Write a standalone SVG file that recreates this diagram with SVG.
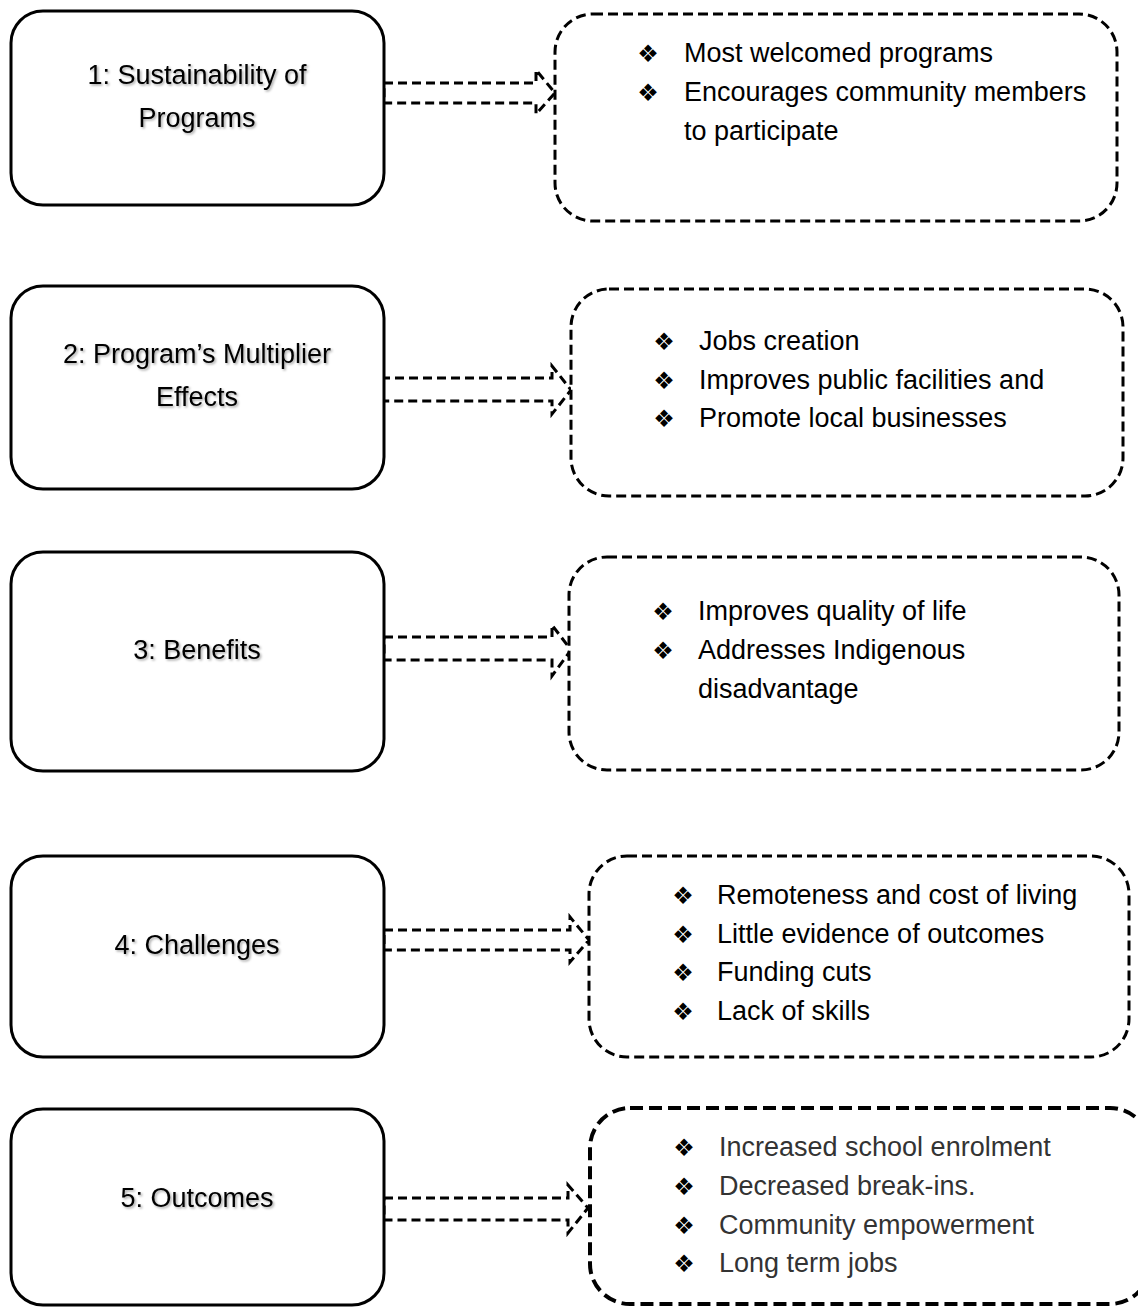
<svg xmlns="http://www.w3.org/2000/svg" width="1138" height="1308" viewBox="0 0 1138 1308">
<defs>
<filter id="sh" x="-10%" y="-30%" width="120%" height="160%">
<feDropShadow dx="1.5" dy="1.5" stdDeviation="1" flood-color="#000" flood-opacity="0.35"/>
</filter>
</defs>
<style>
.node{fill:#fff;stroke:#000;stroke-width:3}
.dbox{fill:#fff;stroke:#000;stroke-width:3;stroke-dasharray:10 5}
.dbox5{fill:#fff;stroke:#000;stroke-width:4;stroke-dasharray:13 6}
.arrow{fill:#fff;stroke:#000;stroke-width:3;stroke-dasharray:9 5;stroke-linejoin:miter}
.title{font-family:"Liberation Sans",Arial,sans-serif;font-size:27px;fill:#000;text-anchor:middle}
.item{font-family:"Liberation Sans",Arial,sans-serif;font-size:27px;fill:#000}
.item5{font-family:"Liberation Sans",Arial,sans-serif;font-size:27px;fill:#333}
.bul{font-family:"DejaVu Sans",sans-serif;font-size:24px;fill:#000;text-anchor:middle}
</style>
<rect width="1138" height="1308" fill="#fff"/>

<g id="connectors">
<path class="arrow" d="M384,83 L536,83 L536,70 L555,93 L536,114 L536,103 L384,103 Z"/>
<path class="arrow" d="M381,378 L552,378 L552,366 L571,390 L552,414 L552,401 L381,401 Z"/>
<path class="arrow" d="M384,637 L552,637 L552,625 L571,650 L552,676 L552,660 L384,660 Z"/>
<path class="arrow" d="M384,930 L570,930 L570,917 L589,940 L570,962 L570,950 L384,950 Z"/>
<path class="arrow" d="M384,1198 L568,1198 L568,1185 L588,1208 L568,1233 L568,1220 L384,1220 Z"/>
</g>

<g id="node1">
<rect class="node" x="11" y="11" width="373" height="194" rx="32"/>
<text class="title" x="197" y="84" filter="url(#sh)">1: Sustainability of</text>
<text class="title" x="197" y="127" filter="url(#sh)">Programs</text>
</g>
<g id="node2">
<rect class="node" x="11" y="286" width="373" height="203" rx="32"/>
<text class="title" x="197" y="363" filter="url(#sh)">2: Program’s Multiplier</text>
<text class="title" x="197" y="406" filter="url(#sh)">Effects</text>
</g>
<g id="node3">
<rect class="node" x="11" y="552" width="373" height="219" rx="32"/>
<text class="title" x="197" y="659" filter="url(#sh)">3: Benefits</text>
</g>
<g id="node4">
<rect class="node" x="11" y="856" width="373" height="201" rx="32"/>
<text class="title" x="197" y="954" filter="url(#sh)">4: Challenges</text>
</g>
<g id="node5">
<rect class="node" x="11" y="1109" width="373" height="196" rx="32"/>
<text class="title" x="197" y="1207" filter="url(#sh)">5: Outcomes</text>
</g>

<g id="detail1">
<rect class="dbox" x="555" y="14" width="562" height="207" rx="38"/>
<text class="bul" x="648" y="62">❖</text>
<text class="item" x="684" y="62">Most welcomed programs</text>
<text class="bul" x="648" y="101">❖</text>
<text class="item" x="684" y="101">Encourages community members</text>
<text class="item" x="684" y="140">to participate</text>
</g>
<g id="detail2">
<rect class="dbox" x="571" y="289" width="552" height="207" rx="38"/>
<text class="bul" x="664" y="350">❖</text>
<text class="item" x="699" y="350">Jobs creation</text>
<text class="bul" x="664" y="389">❖</text>
<text class="item" x="699" y="389">Improves public facilities and</text>
<text class="bul" x="664" y="427">❖</text>
<text class="item" x="699" y="427">Promote local businesses</text>
</g>
<g id="detail3">
<rect class="dbox" x="569" y="557" width="550" height="213" rx="38"/>
<text class="bul" x="663" y="620">❖</text>
<text class="item" x="698" y="620">Improves quality of life</text>
<text class="bul" x="663" y="659">❖</text>
<text class="item" x="698" y="659">Addresses Indigenous</text>
<text class="item" x="698" y="698">disadvantage</text>
</g>
<g id="detail4">
<rect class="dbox" x="589" y="856" width="540" height="201" rx="38"/>
<text class="bul" x="683" y="904">❖</text>
<text class="item" x="717" y="904">Remoteness and cost of living</text>
<text class="bul" x="683" y="943">❖</text>
<text class="item" x="717" y="943">Little evidence of outcomes</text>
<text class="bul" x="683" y="981">❖</text>
<text class="item" x="717" y="981">Funding cuts</text>
<text class="bul" x="683" y="1020">❖</text>
<text class="item" x="717" y="1020">Lack of skills</text>
</g>
<g id="detail5">
<rect class="dbox5" x="590" y="1108" width="560" height="196" rx="40"/>
<text class="bul" x="684" y="1156">❖</text>
<text class="item5" x="719" y="1156">Increased school enrolment</text>
<text class="bul" x="684" y="1195">❖</text>
<text class="item5" x="719" y="1195">Decreased break-ins.</text>
<text class="bul" x="684" y="1234">❖</text>
<text class="item5" x="719" y="1234">Community empowerment</text>
<text class="bul" x="684" y="1272">❖</text>
<text class="item5" x="719" y="1272">Long term jobs</text>
</g>
</svg>
